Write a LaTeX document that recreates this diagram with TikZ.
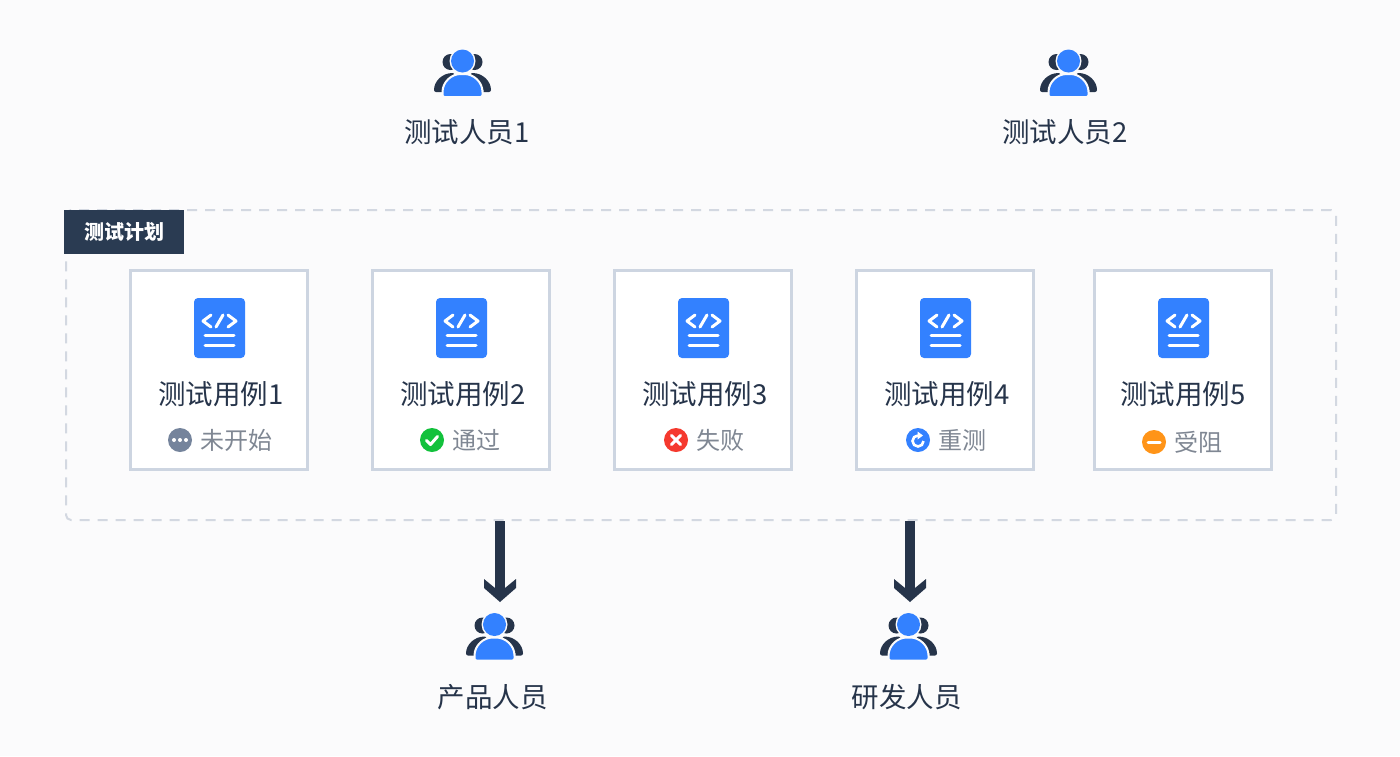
\documentclass[tikz,border=0pt]{standalone}
\usepackage{fontspec}
\setmainfont{Noto Sans CJK SC}
\usepackage{xcolor}
\usetikzlibrary{positioning,arrows.meta,calc}
\definecolor{paper}{HTML}{FBFBFC}
\definecolor{ink}{HTML}{26344A}
\definecolor{navy}{HTML}{2A3B52}
\definecolor{blu}{HTML}{3381FF}
\definecolor{edge}{HTML}{CDD5E1}
\definecolor{dashgray}{HTML}{D3D8E1}
\definecolor{mute}{HTML}{7F8793}
\definecolor{gry}{HTML}{75849C}
\definecolor{grn}{HTML}{12C13C}
\definecolor{rdd}{HTML}{F5392E}
\definecolor{org}{HTML}{FF9418}
\pgfdeclarearrow{
  name=Chevron,
  setup code={
    \pgfarrowssettipend{0pt}
    \pgfarrowssetlineend{-10pt}
    \pgfarrowssetvisualbackend{-23pt}
    \pgfarrowssetbackend{-23pt}
  },
  drawing code={
    \pgfpathmoveto{\pgfpoint{0pt}{0pt}}
    \pgfpathlineto{\pgfpoint{-14pt}{16pt}}
    \pgfpathlineto{\pgfpoint{-23pt}{16pt}}
    \pgfpathlineto{\pgfpoint{-14pt}{5pt}}
    \pgfpathlineto{\pgfpoint{-14pt}{-5pt}}
    \pgfpathlineto{\pgfpoint{-23pt}{-16pt}}
    \pgfpathlineto{\pgfpoint{-14pt}{-16pt}}
    \pgfpathclose
    \pgfusepathqfill
  }
}
\tikzset{
  casebox/.style={draw=edge,line width=2.7pt,fill=white,minimum width=177pt,minimum height=199pt},
  plan/.style={draw=dashgray,line width=2pt,dash pattern=on 10pt off 8pt,rounded corners=5pt,minimum width=1270pt,minimum height=310pt},
  tag/.style={fill=navy,text=white,font=\fontsize{20}{20}\selectfont\bfseries,minimum width=120pt,minimum height=44pt,inner sep=0pt},
  role/.style={text=ink,inner sep=0pt,font=\fontsize{27.5}{28}\selectfont},
  status/.style={text=mute,font=\fontsize{24}{24}\selectfont,inner sep=0pt,anchor=west},
  flowline/.style={draw=ink,line width=10pt,-{Chevron[]}},
  glyph/.style={white,line width=3pt,line cap=round,line join=round},
  people/.pic={
    \fill[ink] (-12,1) circle (8) (12,1) circle (8);
    \fill[ink,rounded corners=2pt] (-28.5,31) .. controls (-28.5,20) and (-20,12) .. (-8,12) -- (-8,31) -- cycle;
    \fill[ink,rounded corners=2pt] (28.5,31) .. controls (28.5,20) and (20,12) .. (8,12) -- (8,31) -- cycle;
    \fill[paper] (0,0) circle (13);
    \fill[blu] (0,0) circle (11.5);
    \path[fill=blu,draw=paper,line width=2pt,rounded corners=2pt] (-20,36) -- (-20,33) .. controls (-20,21) and (-11,13) .. (0,13) .. controls (11,13) and (20,21) .. (20,33) -- (20,36) -- cycle;
  },
  codedoc/.pic={
    \fill[blu,rounded corners=4pt] (-25.5,-30) rectangle (25.5,30);
    \draw[glyph] (-8.5,-13) -- (-16.5,-7) -- (-8.5,-1);
    \draw[glyph] (8.5,-13) -- (16.5,-7) -- (8.5,-1);
    \draw[glyph] (3.5,-13) -- (-3.5,-1);
    \draw[glyph] (-14.5,7) -- (14.5,7) (-14.5,17) -- (14.5,17);
  }
}
\begin{document}
\begin{tikzpicture}[x=1pt,y=-1pt]
  \fill[paper] (0,0) rectangle (1400,756);
  \useasboundingbox (0,0) rectangle (1400,756);

  \pic at (462.5,61) {people};
  \node[role] (tester1) at (467,132) {测试人员1};
  \pic at (1068.5,61) {people};
  \node[role] (tester2) at (1065,132) {测试人员2};

  \node[plan] (testplan) at (701,365) {};
  \node[tag] (plantag) at (124,232) {测试计划};

  \foreach \cx/\ix/\tx/\n in {219/219.5/221/1,461/461.5/463/2,703/703.5/705/3,945/945.5/947/4,1183/1183.5/1183/5}{
    \node[casebox] (case\n) at (\cx,370) {};
    \pic at (\ix,328) {codedoc};
    \node[role] (title\n) at (\tx,394) {测试用例\n};
  }

  \fill[gry] (180,440) circle (12);
  \fill[white] (174,440) circle (2) (180,440) circle (2) (186,440) circle (2);
  \node[status] (stat1) at (200,440) {未开始};

  \fill[grn] (432,440) circle (12);
  \draw[glyph] (426.5,440.5) -- (430.5,444.5) -- (437.5,436.5);
  \node[status] (stat2) at (452,440) {通过};

  \fill[rdd] (676,440) circle (12);
  \draw[glyph] (671.5,435.5) -- (680.5,444.5) (680.5,435.5) -- (671.5,444.5);
  \node[status] (stat3) at (696,440) {失败};

  \fill[blu] (918,440) circle (12);
  \draw[white,line width=2.6pt] (923.5,441) arc (0:270:5.5);
  \fill[white] (917.5,431.5) -- (923,435.5) -- (917.5,439.5) -- cycle;
  \node[status] (stat4) at (938,440) {重测};

  \fill[org] (1154,442) circle (12);
  \draw[glyph] (1148,442) -- (1160,442);
  \node[status] (stat5) at (1174,442) {受阻};

  \coordinate (prodtip) at (500,602);
  \coordinate (devtip) at (910,602);
  \draw[flowline] (testplan.south -| prodtip) -- (prodtip);
  \draw[flowline] (testplan.south -| devtip) -- (devtip);

  \pic at (494.5,624.5) {people};
  \node[role] (product) at (492.5,697) {产品人员};
  \pic at (908.5,624.5) {people};
  \node[role] (dev) at (906.5,697) {研发人员};
\end{tikzpicture}
\end{document}
